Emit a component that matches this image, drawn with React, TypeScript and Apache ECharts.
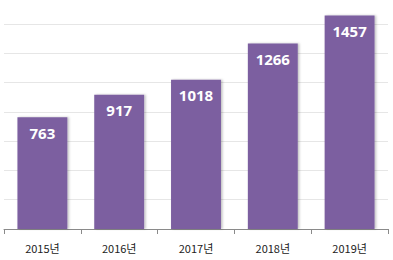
import React, { useEffect, useRef } from "react";
import * as echarts from "echarts";

const categories = ["2015년", "2016년", "2017년", "2018년", "2019년"];
const values = [763, 917, 1018, 1266, 1457];

export default function App() {
  const ref = useRef<HTMLDivElement>(null);
  useEffect(() => {
    const chart = echarts.init(ref.current!, null, { renderer: "svg" });
    chart.setOption({
      animation: false,
      grid: { left: 4, right: 5, top: 0.6, bottom: 31, containLabel: false },
      xAxis: {
        type: "category",
        data: categories,
        axisLine: { lineStyle: { color: "#8a8a8a", width: 1 } },
        axisTick: { show: true, length: 5, lineStyle: { color: "#8a8a8a" } },
        axisLabel: {
          color: "#222",
          fontSize: 11,
          margin: 13,
          fontFamily: "Noto Sans CJK KR, sans-serif",
        },
      },
      yAxis: {
        type: "value",
        min: 0,
        max: 1600,
        interval: 200,
        axisLine: { show: false },
        axisTick: { show: false },
        axisLabel: { show: false },
        splitLine: { lineStyle: { color: "#e6e6e6", width: 1 } },
      },
      series: [
        {
          type: "bar",
          data: values,
          barWidth: "65%",
          itemStyle: {
            color: "#7b5fa0",
            shadowColor: "rgba(0,0,0,0.25)",
            shadowBlur: 2,
            shadowOffsetX: 1.5,
            shadowOffsetY: 0,
          },
          label: {
            show: true,
            position: "insideTop",
            distance: 8,
            color: "#fff",
            fontSize: 15,
            fontWeight: "bold",
            fontFamily: "Open Sans, sans-serif",
          },
        },
      ],
    });
    return () => chart.dispose();
  }, []);
  return (
    <div
      ref={ref}
      style={{ position: "fixed", left: 0, top: -6, width: 393, height: 266, background: "#fff" }}
    />
  );
}
